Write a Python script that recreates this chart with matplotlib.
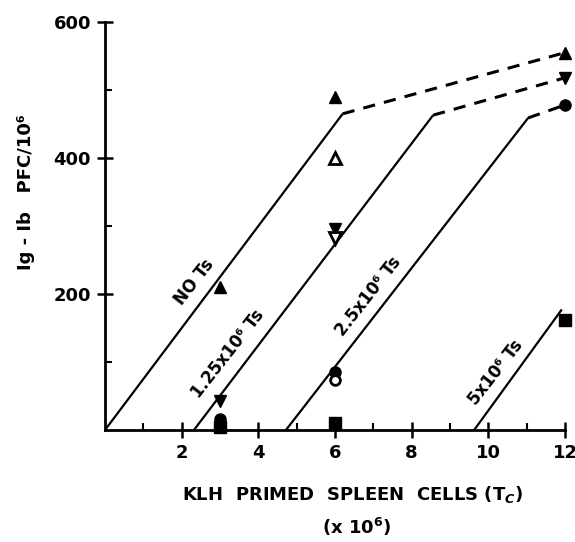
import matplotlib
matplotlib.use("Agg")
import matplotlib.pyplot as plt

# fitted lines: solid part then dashed extension
no_ts_x = [0.0, 6.2, 12.0]
no_ts_y = [0, 465, 555]
ts125_x = [2.32, 8.56, 12.0]
ts125_y = [0, 463, 518]
ts25_x = [4.72, 11.04, 12.0]
ts25_y = [0, 459, 478]
ts5_x = [9.63, 11.9]
ts5_y = [0, 176]

# measured points
up_fill_x = [3, 6, 12]
up_fill_y = [210, 490, 555]
up_open_x = [6]
up_open_y = [400]
down_fill_x = [3, 6, 12]
down_fill_y = [42, 295, 518]
down_open_x = [6]
down_open_y = [282]
circ_fill_x = [3, 6, 12]
circ_fill_y = [16, 86, 478]
circ_open_x = [6]
circ_open_y = [74]
sq_x = [3, 6, 12]
sq_y = [5, 10, 162]

plt.rcParams['font.family'] = ['DejaVu Sans']
plt.rcParams['font.weight'] = 'bold'

fig = plt.figure(figsize=(5.75, 5.42), dpi=100)
ax = fig.add_axes([0.1826, 0.2066, 0.80, 0.7528])

lw = 1.6
for xs, ys in [(no_ts_x, no_ts_y), (ts125_x, ts125_y), (ts25_x, ts25_y)]:
    ax.plot(xs[:2], ys[:2], color='black', lw=lw, solid_capstyle='butt')
    ax.plot(xs[1:], ys[1:], color='black', lw=2.2, dashes=(4, 3), clip_on=False)
ax.plot(ts5_x, ts5_y, color='black', lw=lw)

ms = 9
kw = dict(linestyle='none', clip_on=False, zorder=5)
ax.plot(up_fill_x, up_fill_y, marker='^', color='black', ms=ms, **kw)
ax.plot(up_open_x, up_open_y, marker='^', mfc='white', mec='black', mew=2, ms=ms - 1, **kw)
ax.plot(down_fill_x, down_fill_y, marker='v', color='black', ms=ms, **kw)
ax.plot(down_open_x, down_open_y, marker='v', mfc='white', mec='black', mew=2, ms=ms - 1, **kw)
ax.plot(circ_fill_x, circ_fill_y, marker='o', color='black', ms=ms - 1, **kw)
ax.plot(circ_open_x, circ_open_y, marker='o', mfc='white', mec='black', mew=2, ms=ms - 2, **kw)
ax.plot(sq_x, sq_y, marker='s', color='black', ms=ms - 1, **kw)

# labels along the lines
rot = 52
tkw = dict(rotation=rot, ha='center', va='center', fontsize=12, rotation_mode='anchor')
ax.text(2.33, 217, 'NO Ts', **tkw)
ax.text(3.2, 112, '1.25x10⁶ Ts', **tkw)
ax.text(6.87, 196, '2.5x10⁶ Ts', **tkw)
ax.text(10.2, 84, '5x10⁶ Ts', **tkw)

ax.set_xlim(0, 12)
ax.set_ylim(0, 600)
for s in ['top', 'right']:
    ax.spines[s].set_visible(False)
for s in ['left', 'bottom']:
    ax.spines[s].set_linewidth(2)

ax.set_xticks([2, 4, 6, 8, 10, 12])
ax.set_xticks([1, 3, 5, 7, 9, 11], minor=True)
ax.set_yticks([200, 400, 600])
ax.set_yticks([100, 300, 500], minor=True)
ax.tick_params(which='major', direction='inout', length=12, width=1.8, labelsize=13)
ax.tick_params(which='minor', direction='in', length=5, width=1.5)
ax.tick_params(axis='x', which='major', pad=4)
ax.tick_params(axis='y', which='major', pad=4)

fig.text(0.045, 0.646, 'Ig - Ib   PFC/10⁶', rotation=90, ha='center', va='center', fontsize=13)
fig.text(0.614, 0.087, 'KLH  PRIMED  SPLEEN  CELLS (T$_C$)', ha='center', va='center', fontsize=13)
fig.text(0.62, 0.028, '(x 10$^6$)', ha='center', va='center', fontsize=13)

fig.savefig('out.png', dpi=100)
